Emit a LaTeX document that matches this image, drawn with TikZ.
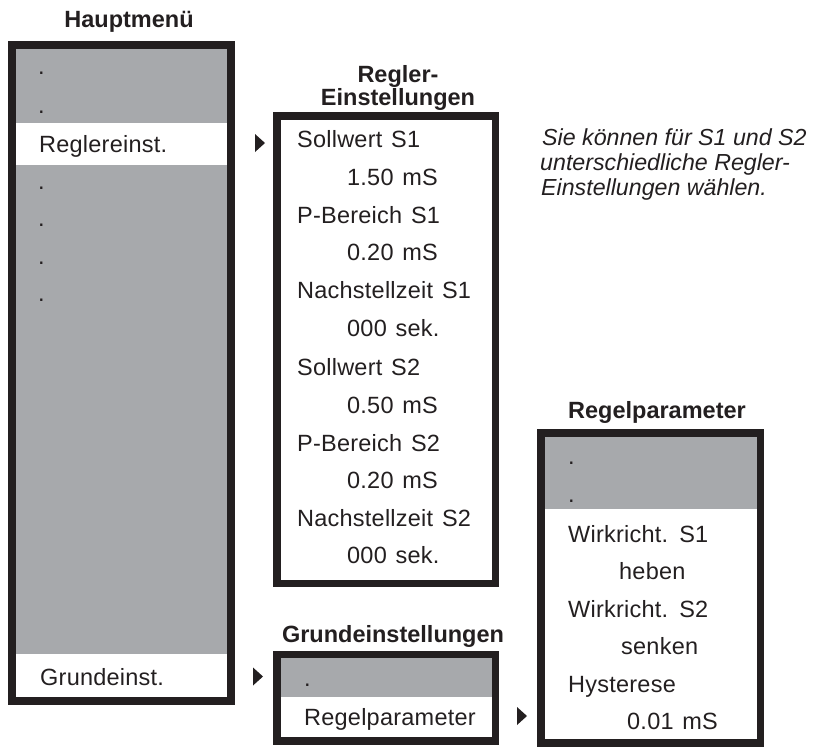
\documentclass[tikz,border=0pt]{standalone}
\usepackage{fontspec}
\setmainfont{Liberation Sans}[LetterSpace=1,WordSpace=1.3,
  BoldFeatures={LetterSpace=0},ItalicFeatures={LetterSpace=0,WordSpace=1}]
\definecolor{ink}{RGB}{35,31,32}
\definecolor{menugray}{RGB}{167,169,172}
\tikzset{
  frame/.style={draw=ink, line width=7.5pt},
  entry/.style={anchor=base west, inner sep=0pt, text=ink, font=\fontsize{23.5}{26}\selectfont},
  heading/.style={anchor=base, inner sep=0pt, text=ink, font=\fontsize{23.5}{26}\selectfont\bfseries},
  hint/.style={anchor=base west, inner sep=0pt, text=ink, font=\fontsize{23.2}{26}\selectfont\itshape},
}

\begin{document}
\begin{tikzpicture}[x=1pt, y=-1pt]
      \useasboundingbox (0,0) rectangle (817,747);
      % Hauptmenue
      \fill[menugray] (16,49) rectangle (227,697);
      \fill[white] (16,123) rectangle (227,165);
      \fill[white] (16,654) rectangle (227,697);
      \draw[frame] (12,45) rectangle (231,701);
      \node[heading] (hm) at (129,27) {Hauptmenü};
      \node[entry] (hm1) at (38,74) {.};
      \node[entry] (hm2) at (38,113) {.};
      \node[entry] (hm3) at (39,152) {Reglereinst.};
      \node[entry] (hm4) at (38,189) {.};
      \node[entry] (hm5) at (38,226) {.};
      \node[entry] (hm6) at (38,264) {.};
      \node[entry] (hm7) at (38,301) {.};
      \node[entry] (hm8) at (40,685) {Grundeinst.};
      % Regler-Einstellungen
      \draw[frame, fill=white] (277,116) rectangle (495.5,583.5);
      \node[heading] (re) at (398,82) {Regler-};
      \node[heading] (re2) at (398,105) {Einstellungen};
      \node[entry] (sw1) at (297,147) {Sollwert S1};
      \node[entry] (sw1v) at (347,185) {1.50 mS};
      \node[entry] (pb1) at (297,223) {P-Bereich S1};
      \node[entry] (pb1v) at (347,260) {0.20 mS};
      \node[entry] (nz1) at (297,298) {Nachstellzeit S1};
      \node[entry] (nz1v) at (347,336) {000 sek.};
      \node[entry] (sw2) at (297,375) {Sollwert S2};
      \node[entry] (sw2v) at (347,413) {0.50 mS};
      \node[entry] (pb2) at (297,451) {P-Bereich S2};
      \node[entry] (pb2v) at (347,488) {0.20 mS};
      \node[entry] (nz2) at (297,526) {Nachstellzeit S2};
      \node[entry] (nz2v) at (347,563) {000 sek.};
      % Grundeinstellungen
      \fill[menugray] (281,658) rectangle (492,697);
      \draw[frame] (277,654.5) rectangle (495.5,741);
      \node[heading] (ge) at (393,642) {Grundeinstellungen};
      \node[entry] (ge1) at (304,686) {.};
      \node[entry] (ge2) at (304,725) {Regelparameter};
      % Regelparameter
      \fill[menugray] (545,437) rectangle (757,509);
      \draw[frame] (541,433) rectangle (760.5,743);
      \node[heading] (rp) at (657,418) {Regelparameter};
      \node[entry] (rp1) at (568,464) {.};
      \node[entry] (rp2) at (568,502) {.};
      \node[entry] (wr1) at (568,542) {Wirkricht. S1};
      \node[entry] (wr1v) at (619,579) {heben};
      \node[entry] (wr2) at (568,617) {Wirkricht. S2};
      \node[entry] (wr2v) at (621,654) {senken};
      \node[entry] (hy) at (568,692) {Hysterese};
      \node[entry] (hyv) at (627,729) {0.01 mS};
      % Hinweis
      \node[hint] (h1) at (542,145) {Sie können für S1 und S2};
      \node[hint] (h2) at (540,170) {unterschiedliche Regler-};
      \node[hint] (h3) at (541,195) {Einstellungen wählen.};
      % Zeiger
      \coordinate (m1) at (265,143);
      \coordinate (m2) at (263,676.5);
      \coordinate (m3) at (527,716);
      \fill[ink] (m1) -- ++(-10,-9) -- ++(0,18) -- cycle;
      \fill[ink] (m2) -- ++(-10,-9) -- ++(0,18) -- cycle;
      \fill[ink] (m3) -- ++(-10,-9) -- ++(0,18) -- cycle;
    \end{tikzpicture}
\end{document}
